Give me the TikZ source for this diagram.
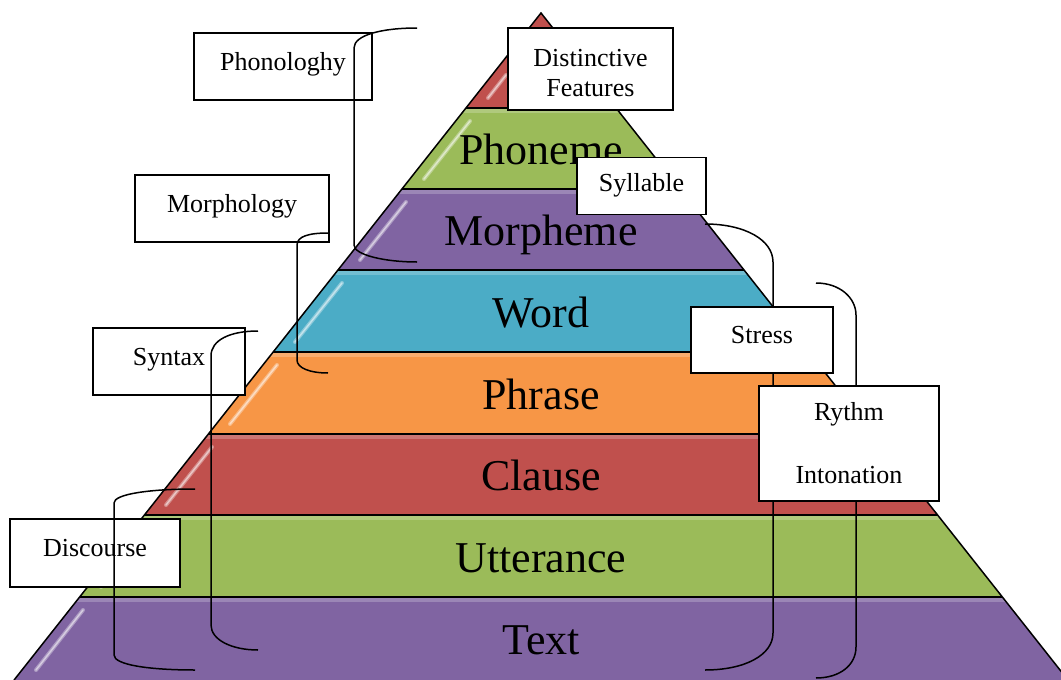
\documentclass[tikz,border=0pt]{standalone}
\usepackage{fontspec}
\setmainfont{Liberation Serif}
\usepackage{tikz}
\definecolor{lyred}{RGB}{192,80,77}
\definecolor{lygreen}{RGB}{155,187,89}
\definecolor{lypurple}{RGB}{128,100,162}
\definecolor{lycyan}{RGB}{75,172,198}
\definecolor{lyorange}{RGB}{247,150,70}

\begin{document}
\begin{tikzpicture}[
  x=1pt, y=-1pt,
  every node/.style={font=\fontsize{26}{30}\selectfont},
  lblbox/.style={rectangle, draw=black, line width=1.2pt, fill=white,
                 inner sep=0pt, align=center},
  tag/.style={lblbox, text height=18pt, text depth=11pt},
  lvl/.style={font=\fontsize{44}{48}\selectfont, anchor=base, inner sep=0pt},
  brk/.style={draw=black, line width=1.5pt},
  gloss/.style={white, line width=4pt, line cap=round, opacity=0.35},
  glosscore/.style={white, line width=1.5pt, line cap=round, opacity=0.5},
  sheen/.style={white, line width=4pt, opacity=0.22},
]
\useasboundingbox (0,0) rectangle (1061,680);
\clip (0,0) rectangle (1061,680);

% pyramid layers
\begin{scope}
  \clip (541,13) -- (14.07,680) -- (1067.93,680) -- cycle;
  \fill[lyred]    (0,0)   rectangle (1100,108);
  \fill[lygreen]  (0,108) rectangle (1100,189);
  \fill[lypurple] (0,189) rectangle (1100,270);
  \fill[lycyan]   (0,270) rectangle (1100,352);
  \fill[lyorange] (0,352) rectangle (1100,434);
  \fill[lyred]    (0,434) rectangle (1100,515);
  \fill[lygreen]  (0,515) rectangle (1100,597);
  \fill[lypurple] (0,597) rectangle (1100,690);
  % top sheen of each layer
  \draw[sheen] (0,111) -- (1100,111) (0,192) -- (1100,192) (0,273) -- (1100,273)
    (0,355) -- (1100,355) (0,437) -- (1100,437) (0,518) -- (1100,518)
    (0,600) -- (1100,600);
  % glossy streaks
  \draw[gloss] (488,98)  -- (506,75);
  \draw[gloss] (424,179) -- (470,121);
  \draw[gloss] (360,260) -- (406,202);
  \draw[gloss] (295,342) -- (342,283);
  \draw[gloss] (230,424) -- (277,365);
  \draw[gloss] (166,505) -- (212,447);
  \draw[gloss] (101,587) -- (148,528);
  \draw[gloss] (36,670)  -- (83,610);
  \draw[glosscore] (488,98)  -- (506,75);
  \draw[glosscore] (424,179) -- (470,121);
  \draw[glosscore] (360,260) -- (406,202);
  \draw[glosscore] (295,342) -- (342,283);
  \draw[glosscore] (230,424) -- (277,365);
  \draw[glosscore] (166,505) -- (212,447);
  \draw[glosscore] (101,587) -- (148,528);
  \draw[glosscore] (36,670)  -- (83,610);
  \draw[line width=1.5pt] (0,108) -- (1100,108) (0,189) -- (1100,189)
    (0,270) -- (1100,270) (0,352) -- (1100,352) (0,434) -- (1100,434)
    (0,515) -- (1100,515) (0,597) -- (1100,597);
\end{scope}
\draw[line width=1.5pt, line join=miter] (14.07,680) -- (541,13) -- (1067.93,680);

\node[lvl] (phoneme)   at (541,164) {Phoneme};
\node[lvl] (morpheme)  at (541,245) {Morpheme};
\node[lvl] (word)      at (541,327) {Word};
\node[lvl] (phrase)    at (541,409) {Phrase};
\node[lvl] (clause)    at (541,490) {Clause};
\node[lvl] (utterance) at (541,572) {Utterance};
\node[lvl] (text)      at (541,654) {Text};

% right brackets
\draw[brk] (705,224) .. controls (745,224) and (773,240) .. (773,262)
  -- (773,633) .. controls (773,655) and (745,670) .. (705,670);
\draw[brk] (816,283) .. controls (840,283) and (856,298) .. (856,315)
  -- (856,647) .. controls (856,665) and (840,678) .. (816,678);

% labels
\node[tag, minimum width=178pt, minimum height=67pt] (phon)   at (283,66.5)  {Phonologhy};
\node[lblbox, minimum width=165pt, minimum height=82pt] (dist) at (590.5,69) {\rule{0pt}{25pt}Distinctive\\Features};
\node[tag, minimum width=129pt, minimum height=57pt, text depth=7pt] (syl) at (641.5,186) {Syllable};
\node[tag, minimum width=194pt, minimum height=67pt] (morph)  at (232,208.5) {Morphology};
\node[tag, minimum width=142pt, minimum height=66pt] (stress) at (762,340)   {Stress};
\node[tag, minimum width=152pt, minimum height=67pt] (syn)    at (169,361.5) {Syntax};
\node[lblbox, minimum width=180pt, minimum height=115pt] (ryth) at (849,443.5) {Rythm\\[33pt]Intonation};
\node[tag, minimum width=170pt, minimum height=68pt] (disc)   at (95,553)    {Discourse};

% left brackets
\draw[brk] (417,28) .. controls (382,28) and (354,35) .. (354,48)
  -- (354,245) .. controls (354,255) and (385,262) .. (417,262);
\draw[brk] (328,233) .. controls (310,233) and (297,236) .. (297,245)
  -- (297,360) .. controls (297,368) and (310,373) .. (328,373);
\draw[brk] (258,331) .. controls (230,331) and (211,340) .. (211,356)
  -- (211,625) .. controls (211,640) and (232,650) .. (258,650);
\draw[brk] (195,489) .. controls (150,489) and (114,494) .. (114,503)
  -- (114,655) .. controls (114,665) and (150,670) .. (195,670);
\end{tikzpicture}
\end{document}
